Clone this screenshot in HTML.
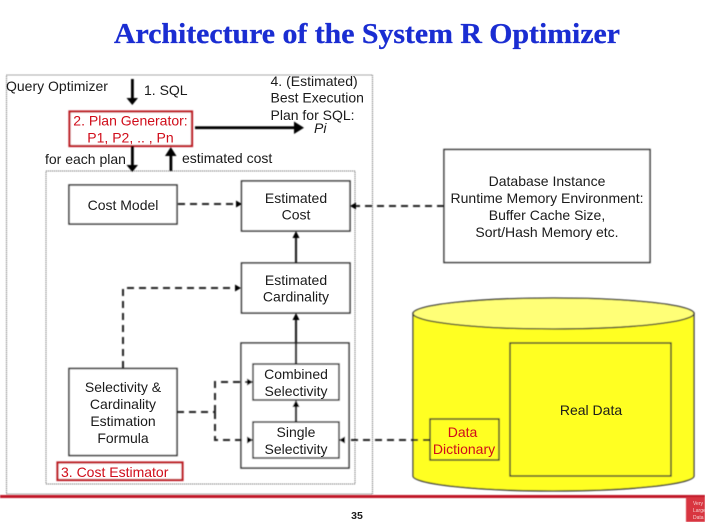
<!DOCTYPE html>
<html>
<head>
<meta charset="utf-8">
<style>
html,body{margin:0;padding:0;background:#fff;width:705px;height:522px;overflow:hidden}
svg{display:block}
text{font-family:"Liberation Sans",sans-serif;font-size:14px;fill:#1a1a1a;text-anchor:middle}
.l{text-anchor:start}
.r{fill:#d0101a}
</style>
</head>
<body>
<svg width="705" height="522" viewBox="0 0 705 522" xmlns="http://www.w3.org/2000/svg">
<filter id="b" x="-2%" y="-2%" width="104%" height="104%"><feGaussianBlur stdDeviation="0.4"/></filter>
<filter id="c" x="-2%" y="-2%" width="104%" height="104%"><feGaussianBlur stdDeviation="0.2"/></filter>
<text x="367" y="43" style="font-family:'Liberation Serif',serif;font-size:28.5px;font-weight:bold;fill:#1a2dd2;stroke:#1a2dd2;stroke-width:.3" textLength="506" lengthAdjust="spacingAndGlyphs">Architecture of the System R Optimizer</text>
<g filter="url(#b)">
<rect x="6.500" y="75" width="366" height="419" fill="none" stroke="#555" stroke-width="1" stroke-dasharray="1 1"/>
<rect x="46" y="171" width="309" height="313" fill="none" stroke="#555" stroke-width="1" stroke-dasharray="1 1"/>

<!-- cylinder -->
<path d="M413 313V476C413 484 476 491 553 491S694 484 694 476V313z" fill="#ffff22" stroke="#333" stroke-width="1.300"/>
<ellipse cx="553.500" cy="313.500" rx="140.500" ry="15.500" fill="#ffff77" stroke="#333" stroke-width="1.300"/>
<rect x="510" y="343" width="161" height="133" fill="none" stroke="#333" stroke-width="1.400"/>
<rect x="430" y="419" width="69" height="41" fill="none" stroke="#333" stroke-width="1.400"/>

<!-- boxes -->
<g fill="#fff" stroke="#333" stroke-width="1.500">
<rect x="69" y="185" width="108" height="39"/>
<rect x="241.500" y="181" width="108.500" height="50"/>
<rect x="241.500" y="263" width="108.500" height="50"/>
<rect x="241" y="343" width="108" height="125"/>
<rect x="253" y="364" width="86" height="36"/>
<rect x="253" y="422" width="86" height="36"/>
<rect x="69" y="368.500" width="108" height="87"/>
<rect x="444" y="149.500" width="206" height="113"/>
</g>
<rect x="69.500" y="111.500" width="122.500" height="34.500" fill="#fff" stroke="#bd1a24" stroke-width="2.200"/>
<rect x="57.500" y="462.500" width="125" height="17.500" fill="#fff" stroke="#bd1a24" stroke-width="2.200"/>

<!-- solid thick arrows -->
<g fill="#000" stroke="none">
<rect x="131" y="79" width="2.800" height="20"/><path d="M126.500 98H138L132.300 105z"/>
<rect x="131" y="146" width="2.800" height="20"/><path d="M126.500 165H138L132.300 172z"/>
<rect x="169.500" y="155" width="2.800" height="16"/><path d="M165 156H176.500L170.800 147z"/>
<rect x="195" y="126.300" width="100" height="2.800"/><path d="M294 121.500V134L304 127.700z"/>
</g>
<!-- solid thin arrows -->
<g stroke="#222" stroke-width="2.200" fill="none">
<line x1="296" y1="263" x2="296" y2="236"/>
<line x1="296" y1="364" x2="296" y2="318"/>
<line x1="296" y1="422" x2="296" y2="405"/>
</g>
<g fill="#000">
<path d="M292.500 238H299.500L296 231z"/><path d="M292.500 320H299.500L296 313z"/><path d="M292.500 407H299.500L296 400z"/>
</g>
<!-- dashed -->
<g fill="none" stroke="#222" stroke-width="2" stroke-dasharray="7 5">
<path d="M178 204H236"/>
<path d="M444 206H356"/>
<path d="M123 368V288H236"/>
<path d="M177 412H215"/>
<path d="M215 412V382H247"/>
<path d="M215 412V440H247"/>
<path d="M430 440H347"/>
</g>
<g fill="#000">
<path d="M236 200.500V207.500L242 204z"/>
<path d="M356 202.500V209.500L350 206z"/>
<path d="M235 284.500V291.500L241 288z"/>
<path d="M247 378.500V385.500L253 382z"/>
<path d="M247 436.500V443.500L253 440z"/>
<path d="M345 436.500V443.500L339 440z"/>
</g>

<!-- footer -->
<rect x="0" y="495" width="705" height="3" fill="#c01425"/>
<rect x="686" y="497" width="19" height="25" fill="#d8353f"/>
</g>
<g filter="url(#c)">
<text class="l" x="6" y="91">Query Optimizer</text>
<text class="l" x="144" y="95">1. SQL</text>
<text class="l" x="270.500" y="86">4. (Estimated)</text>
<text class="l" x="270.500" y="102.500">Best Execution</text>
<text class="l" x="270.500" y="120">Plan for SQL:</text>
<text class="l" x="314" y="133" style="font-style:italic">Pi</text>
<text class="r" x="130.500" y="125.500">2. Plan Generator:</text>
<text class="r" x="130.500" y="142.500">P1, P2, .. , Pn</text>
<text class="l" x="45" y="164">for each plan</text>
<text class="l" x="182" y="163">estimated cost</text>
<text x="123" y="210">Cost Model</text>
<text x="296" y="203">Estimated</text>
<text x="296" y="219.500">Cost</text>
<text x="296" y="285">Estimated</text>
<text x="296" y="301.500">Cardinality</text>
<text x="296" y="379">Combined</text>
<text x="296" y="396">Selectivity</text>
<text x="296" y="437">Single</text>
<text x="296" y="454">Selectivity</text>
<text x="123" y="392">Selectivity &amp;</text>
<text x="123" y="409">Cardinality</text>
<text x="123" y="426">Estimation</text>
<text x="123" y="443">Formula</text>
<text class="l r" x="61" y="477">3. Cost Estimator</text>
<text x="547" y="186">Database Instance</text>
<text x="547" y="203">Runtime Memory Environment:</text>
<text x="547" y="220">Buffer Cache Size,</text>
<text x="547" y="237">Sort/Hash Memory etc.</text>
<text x="591" y="415">Real Data</text>
<text class="r" x="462.500" y="437">Data</text>
<text class="r" x="464" y="454">Dictionary</text>
<text x="357" y="519" style="font-size:10.500px;font-weight:bold">35</text>
<text class="l" x="693" y="505" style="font-size:5px;fill:#f6d0d0">Very</text>
<text class="l" x="693" y="512" style="font-size:5px;fill:#f6d0d0">Large</text>
<text class="l" x="693" y="519" style="font-size:5px;fill:#f6d0d0">Data</text>
</g>
</svg>
</body>
</html>
